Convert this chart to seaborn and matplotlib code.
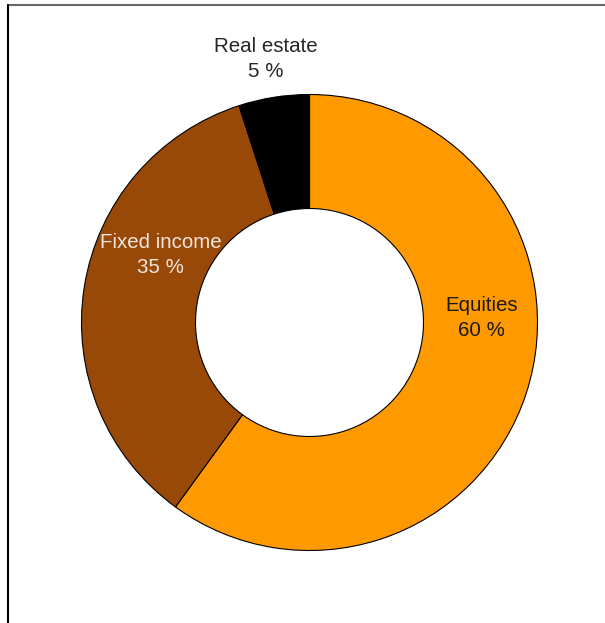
import matplotlib
matplotlib.use("Agg")
import matplotlib.pyplot as plt
import seaborn as sns
from matplotlib.lines import Line2D

categories = ["Equities", "Fixed income", "Real estate"]
shares = [60, 35, 5]
pct_labels = ["60 %", "35 %", "5 %"]

sns.set_theme(style="white")
plt.rcParams['font.family'] = ['Liberation Sans', 'DejaVu Sans']

colors = ["#FF9900", "#984807", "#000000"]
text_colors = ["#1a1a1a", "#F2E6DC", "#262626"]
label_pos = [(0.754, 0.018), (-0.654, 0.294), (-0.193, 1.156)]

fig = plt.figure(figsize=(6.05, 6.23), dpi=100)
W, H = 605, 623
scale = 228.0
lim = 1.3
cx, cy = 309.5, H - 322.5
aw = 2 * lim * scale
ax = fig.add_axes([(cx - aw / 2) / W, (cy - aw / 2) / H, aw / W, aw / H])

wedges, _ = ax.pie(shares, colors=colors, startangle=90, counterclock=False,
                   radius=1.0,
                   wedgeprops=dict(width=0.5, edgecolor="black", linewidth=0.8))
ax.set_xlim(-lim, lim)
ax.set_ylim(-lim, lim)
ax.set_aspect("equal")
ax.axis("off")

for cat, pct, (x, y), tc in zip(categories, pct_labels, label_pos, text_colors):
    ax.text(x, y, f"{cat}\n{pct}", ha="center", va="center", fontsize=14.8,
            color=tc, linespacing=1.4)

fig.add_artist(Line2D([8 / W, 1.0], [1 - 5 / H, 1 - 5 / H], transform=fig.transFigure,
                      color="#666666", linewidth=1.5))
fig.add_artist(Line2D([8 / W, 8 / W], [0, 1 - 5 / H], transform=fig.transFigure,
                      color="black", linewidth=1.5))

fig.savefig("out.png", dpi=100, facecolor="white")
